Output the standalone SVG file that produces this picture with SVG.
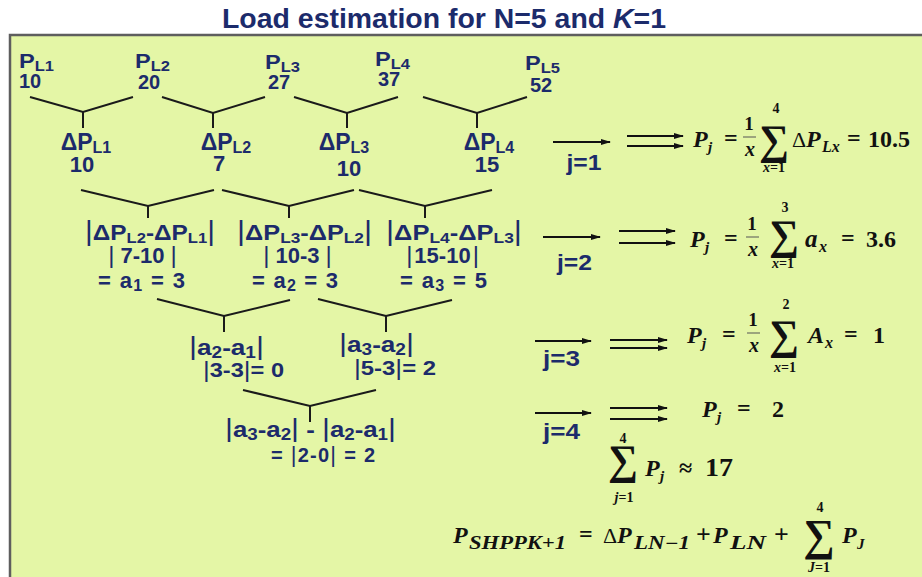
<svg xmlns="http://www.w3.org/2000/svg" width="922" height="577" viewBox="0 0 922 577">
<defs>
<marker id="ah" markerWidth="10" markerHeight="8" refX="9" refY="4" orient="auto" markerUnits="userSpaceOnUse">
<path d="M0,1 L10,4 L0,7 Z" fill="#111"/>
</marker>
<style>
.b{font-family:"Liberation Sans",Arial,sans-serif;font-weight:bold;fill:#1c2b6b}
.t1{font-size:20px}
.t2{font-size:23px}
.t3{font-size:22px}
.bar{font-weight:normal}
.m{font-family:"Liberation Serif","DejaVu Serif",serif;font-weight:bold;fill:#111}
.i{font-style:italic}
.y{fill:none;stroke:#1a1a1a;stroke-width:2}
.ar{stroke:#111;stroke-width:2;marker-end:url(#ah)}
.fb{stroke:#555;stroke-width:1}
</style>
</defs>
<rect width="922" height="577" fill="#ffffff"/>
<rect x="10" y="35" width="930" height="560" fill="#e4f6a6" stroke="#5e5e5e" stroke-width="2.5"/>
<text x="444" y="28" class="b" font-size="27" text-anchor="middle" textLength="444" lengthAdjust="spacingAndGlyphs">Load estimation for N=5 and <tspan font-style="italic">K</tspan>=1</text>

<g id="connectors">
<polyline class="y" points="30,97 83,112 133,97"/><line class="y" x1="83" y1="112" x2="83" y2="128"/>
<polyline class="y" points="162,97 213,113 265,97"/><line class="y" x1="213" y1="113" x2="213" y2="128"/>
<polyline class="y" points="294,97 347,113 398,97"/><line class="y" x1="347" y1="113" x2="347" y2="128"/>
<polyline class="y" points="423,97 477,113 527,97"/><line class="y" x1="477" y1="113" x2="477" y2="128"/>
<polyline class="y" points="81,190 148,206 214,190"/><line class="y" x1="148" y1="206" x2="148" y2="218"/>
<polyline class="y" points="222,190 289,206 354,190"/><line class="y" x1="289" y1="206" x2="289" y2="218"/>
<polyline class="y" points="359,190 425,206 492,190"/><line class="y" x1="425" y1="206" x2="425" y2="218"/>
<polyline class="y" points="157,299 224,316 290,300"/><line class="y" x1="224" y1="316" x2="224" y2="332"/>
<polyline class="y" points="318,299 386,316 452,300"/><line class="y" x1="386" y1="316" x2="386" y2="332"/>
<polyline class="y" points="243,390 310,406 376,390"/><line class="y" x1="310" y1="406" x2="310" y2="422"/>
<line class="ar" x1="553" y1="142" x2="610" y2="142"/>
<line class="ar" x1="627" y1="136" x2="683" y2="136"/><line class="ar" x1="627" y1="146" x2="683" y2="146"/>
<line class="ar" x1="543" y1="237" x2="600" y2="237"/>
<line class="ar" x1="619" y1="231" x2="675" y2="231"/><line class="ar" x1="619" y1="243" x2="675" y2="243"/>
<line class="ar" x1="535" y1="341" x2="591" y2="341"/>
<line class="ar" x1="610" y1="340" x2="667" y2="340"/><line class="ar" x1="610" y1="348" x2="667" y2="348"/>
<line class="ar" x1="535" y1="413" x2="591" y2="413"/>
<line class="ar" x1="610" y1="408" x2="667" y2="408"/><line class="ar" x1="610" y1="419" x2="667" y2="419"/>
</g>

<g id="PL1" class="b t1"><text x="19" y="68" textLength="35" lengthAdjust="spacingAndGlyphs">P<tspan font-size="14" dy="3">L1</tspan></text><text x="19" y="88">10</text></g>
<g id="PL2" class="b t1"><text x="135" y="68" textLength="35" lengthAdjust="spacingAndGlyphs">P<tspan font-size="14" dy="3">L2</tspan></text><text x="138" y="89">20</text></g>
<g id="PL3" class="b t1"><text x="265" y="69" textLength="35" lengthAdjust="spacingAndGlyphs">P<tspan font-size="14" dy="3">L3</tspan></text><text x="268" y="89">27</text></g>
<g id="PL4" class="b t1"><text x="375" y="66" textLength="35" lengthAdjust="spacingAndGlyphs">P<tspan font-size="14" dy="3">L4</tspan></text><text x="378" y="86">37</text></g>
<g id="PL5" class="b t1"><text x="525" y="70" textLength="35" lengthAdjust="spacingAndGlyphs">P<tspan font-size="14" dy="3">L5</tspan></text><text x="530" y="92">52</text></g>

<g id="dPL1" class="b t2" text-anchor="middle"><text x="86" y="150">ΔP<tspan font-size="16" dy="3">L1</tspan></text><text x="82" y="172" font-size="22">10</text></g>
<g id="dPL2" class="b t2" text-anchor="middle"><text x="226" y="150">ΔP<tspan font-size="16" dy="3">L2</tspan></text><text x="219" y="171" font-size="22">7</text></g>
<g id="dPL3" class="b t2" text-anchor="middle"><text x="344" y="150">ΔP<tspan font-size="16" dy="3">L3</tspan></text><text x="349" y="176" font-size="22">10</text></g>
<g id="dPL4" class="b t2" text-anchor="middle"><text x="489" y="150">ΔP<tspan font-size="16" dy="3">L4</tspan></text><text x="487" y="172" font-size="22">15</text></g>

<g id="a1" class="b t3" text-anchor="middle">
<text x="150" y="240" textLength="130" lengthAdjust="spacingAndGlyphs"><tspan class="bar" font-size="27">|</tspan>ΔP<tspan font-size="15" dy="3">L2</tspan><tspan dy="-3">-ΔP</tspan><tspan font-size="15" dy="3">L1</tspan><tspan class="bar" font-size="27" dy="-3">|</tspan></text>
<text x="142.5" y="263"><tspan class="bar" font-size="24">|</tspan><tspan dx="6">7-10</tspan><tspan class="bar" font-size="24" dx="6">|</tspan></text>
<text x="141.5" y="288" textLength="87">= a<tspan font-size="16" dy="3">1</tspan><tspan dy="-3"> = 3</tspan></text>
</g>
<g id="a2" class="b t3" text-anchor="middle">
<text x="304.5" y="240" textLength="135" lengthAdjust="spacingAndGlyphs"><tspan class="bar" font-size="27">|</tspan>ΔP<tspan font-size="15" dy="3">L3</tspan><tspan dy="-3">-ΔP</tspan><tspan font-size="15" dy="3">L2</tspan><tspan class="bar" font-size="27" dy="-3">|</tspan></text>
<text x="297.5" y="263"><tspan class="bar" font-size="24">|</tspan><tspan dx="6">10-3</tspan><tspan class="bar" font-size="24" dx="6">|</tspan></text>
<text x="295" y="288" textLength="86">= a<tspan font-size="16" dy="3">2</tspan><tspan dy="-3"> = 3</tspan></text>
</g>
<g id="a3" class="b t3" text-anchor="middle">
<text x="454" y="240" textLength="136" lengthAdjust="spacingAndGlyphs"><tspan class="bar" font-size="27">|</tspan>ΔP<tspan font-size="15" dy="3">L4</tspan><tspan dy="-3">-ΔP</tspan><tspan font-size="15" dy="3">L3</tspan><tspan class="bar" font-size="27" dy="-3">|</tspan></text>
<text x="442.5" y="263"><tspan class="bar" font-size="24">|</tspan><tspan dx="2">15-10</tspan><tspan class="bar" font-size="24" dx="2">|</tspan></text>
<text x="443.5" y="288" textLength="87">= a<tspan font-size="16" dy="3">3</tspan><tspan dy="-3"> = 5</tspan></text>
</g>

<g id="A1" class="b t3" text-anchor="middle">
<text x="226.5" y="355" textLength="75" lengthAdjust="spacingAndGlyphs"><tspan class="bar" font-size="26">|</tspan>a<tspan font-size="16" dy="3">2</tspan><tspan dy="-3">-a</tspan><tspan font-size="16" dy="3">1</tspan><tspan class="bar" font-size="26" dy="-3">|</tspan></text>
<text x="243.5" y="377" font-size="20" textLength="81" lengthAdjust="spacingAndGlyphs"><tspan class="bar" font-size="22">|</tspan>3-3<tspan class="bar" font-size="22">|</tspan>= 0</text>
</g>
<g id="A2" class="b t3" text-anchor="middle">
<text x="376.5" y="352" textLength="75" lengthAdjust="spacingAndGlyphs"><tspan class="bar" font-size="26">|</tspan>a<tspan font-size="16" dy="3">3</tspan><tspan dy="-3">-a</tspan><tspan font-size="16" dy="3">2</tspan><tspan class="bar" font-size="26" dy="-3">|</tspan></text>
<text x="395" y="375" font-size="20" textLength="82" lengthAdjust="spacingAndGlyphs"><tspan class="bar" font-size="22">|</tspan>5-3<tspan class="bar" font-size="22">|</tspan>= 2</text>
</g>
<g id="A3" class="b t3" text-anchor="middle">
<text x="310.5" y="437" textLength="171" lengthAdjust="spacingAndGlyphs"><tspan class="bar" font-size="26">|</tspan>a<tspan font-size="16" dy="3">3</tspan><tspan dy="-3">-a</tspan><tspan font-size="16" dy="3">2</tspan><tspan class="bar" font-size="26" dy="-3">|</tspan> - <tspan class="bar" font-size="26">|</tspan>a<tspan font-size="16" dy="3">2</tspan><tspan dy="-3">-a</tspan><tspan font-size="16" dy="3">1</tspan><tspan class="bar" font-size="26" dy="-3">|</tspan></text>
<text x="323" y="462" font-size="20" textLength="104">= <tspan class="bar" font-size="22">|</tspan>2-0<tspan class="bar" font-size="22">|</tspan> = 2</text>
</g>

<g id="j1"><text x="584" y="170" class="b t3" text-anchor="middle" textLength="35" lengthAdjust="spacingAndGlyphs">j=1</text></g>
<g id="j2"><text x="574.5" y="270" class="b t3" text-anchor="middle" textLength="35" lengthAdjust="spacingAndGlyphs">j=2</text></g>
<g id="j3"><text x="561.5" y="366" class="b t3" text-anchor="middle" textLength="37" lengthAdjust="spacingAndGlyphs">j=3</text></g>
<g id="j4"><text x="561.5" y="439" class="b t3" text-anchor="middle" textLength="37" lengthAdjust="spacingAndGlyphs">j=4</text></g>

<g id="eq1" class="m">
<text x="693" y="147" font-size="24" class="i">P</text><text x="708" y="152" font-size="15" class="i">j</text>
<text x="724" y="146" font-size="24">=</text>
<text x="749" y="130" font-size="19" text-anchor="middle">1</text><line class="fb" x1="743" y1="137" x2="756" y2="137"/><text x="750" y="156" font-size="20" text-anchor="middle" class="i">x</text>
<text x="774" y="154" font-size="42" text-anchor="middle">∑</text>
<text x="776" y="113" font-size="14" text-anchor="middle">4</text>
<text x="774" y="172" font-size="14" text-anchor="middle"><tspan class="i">x</tspan>=1</text>
<text x="792" y="147" font-size="22" font-weight="normal">Δ</text>
<text x="806" y="147" font-size="24" class="i">P</text>
<text x="822" y="152" font-size="16" class="i">Lx</text>
<text x="847" y="146" font-size="24">=</text>
<text x="868" y="147" font-size="24">10.5</text>
</g>
<g id="eq2" class="m">
<text x="690" y="247" font-size="24" class="i">P</text><text x="705" y="252" font-size="15" class="i">j</text>
<text x="724" y="246" font-size="24">=</text>
<text x="752" y="230" font-size="19" text-anchor="middle">1</text><line class="fb" x1="746" y1="237" x2="759" y2="237"/><text x="753" y="256" font-size="20" text-anchor="middle" class="i">x</text>
<text x="784" y="249" font-size="42" text-anchor="middle">∑</text>
<text x="785" y="212" font-size="14" text-anchor="middle">3</text>
<text x="783" y="268" font-size="14" text-anchor="middle"><tspan class="i">x</tspan>=1</text>
<text x="805" y="247" font-size="25" class="i">a</text>
<text x="819" y="252" font-size="16" class="i">x</text>
<text x="841" y="246" font-size="24">=</text>
<text x="866" y="247" font-size="24">3.6</text>
</g>
<g id="eq3" class="m">
<text x="687" y="343" font-size="24" class="i">P</text><text x="702" y="348" font-size="15" class="i">j</text>
<text x="722" y="342" font-size="24">=</text>
<text x="753" y="326" font-size="19" text-anchor="middle">1</text><line class="fb" x1="747" y1="333" x2="760" y2="333"/><text x="754" y="352" font-size="20" text-anchor="middle" class="i">x</text>
<text x="784" y="349" font-size="42" text-anchor="middle">∑</text>
<text x="786" y="309" font-size="14" text-anchor="middle">2</text>
<text x="785" y="372" font-size="14" text-anchor="middle"><tspan class="i">x</tspan>=1</text>
<text x="808" y="343" font-size="24" class="i">A</text>
<text x="825" y="348" font-size="16" class="i">x</text>
<text x="844" y="342" font-size="24">=</text>
<text x="873" y="343" font-size="24">1</text>
</g>
<g id="eq4" class="m">
<text x="702" y="417" font-size="24" class="i">P</text><text x="717" y="422" font-size="15" class="i">j</text>
<text x="737" y="416" font-size="24">=</text>
<text x="772" y="417" font-size="24">2</text>
</g>
<g id="eq5" class="m">
<text x="623" y="474" font-size="42" text-anchor="middle">∑</text>
<text x="623" y="443" font-size="14" text-anchor="middle">4</text>
<text x="624" y="502" font-size="14" text-anchor="middle"><tspan class="i">j</tspan>=1</text>
<text x="645" y="476" font-size="24" class="i">P</text><text x="660" y="481" font-size="15" class="i">j</text>
<text x="679" y="476" font-size="24">≈</text>
<text x="705" y="476" font-size="25" textLength="28" lengthAdjust="spacingAndGlyphs">17</text>
</g>
<g id="eq6" class="m">
<text x="453" y="543" font-size="24" class="i">P</text>
<text x="469" y="549" font-size="18" class="i" textLength="97" lengthAdjust="spacingAndGlyphs">SHPPK+1</text>
<text x="579" y="542" font-size="24">=</text>
<text x="603" y="543" font-size="22" font-weight="normal">Δ</text>
<text x="617" y="543" font-size="24" class="i">P</text>
<text x="634" y="549" font-size="18" class="i" textLength="56" lengthAdjust="spacingAndGlyphs">LN−1</text>
<text x="696" y="543" font-size="26">+</text>
<text x="713" y="543" font-size="24" class="i">P</text>
<text x="730" y="549" font-size="19" class="i" textLength="36" lengthAdjust="spacingAndGlyphs">LN</text>
<text x="774" y="543" font-size="26">+</text>
<text x="819" y="550" font-size="44" text-anchor="middle">∑</text>
<text x="820" y="512" font-size="14" text-anchor="middle">4</text>
<text x="819" y="572" font-size="14" text-anchor="middle"><tspan class="i">J</tspan>=1</text>
<text x="842" y="543" font-size="24" class="i">P</text><text x="857" y="549" font-size="15" class="i">J</text>
</g>
</svg>
